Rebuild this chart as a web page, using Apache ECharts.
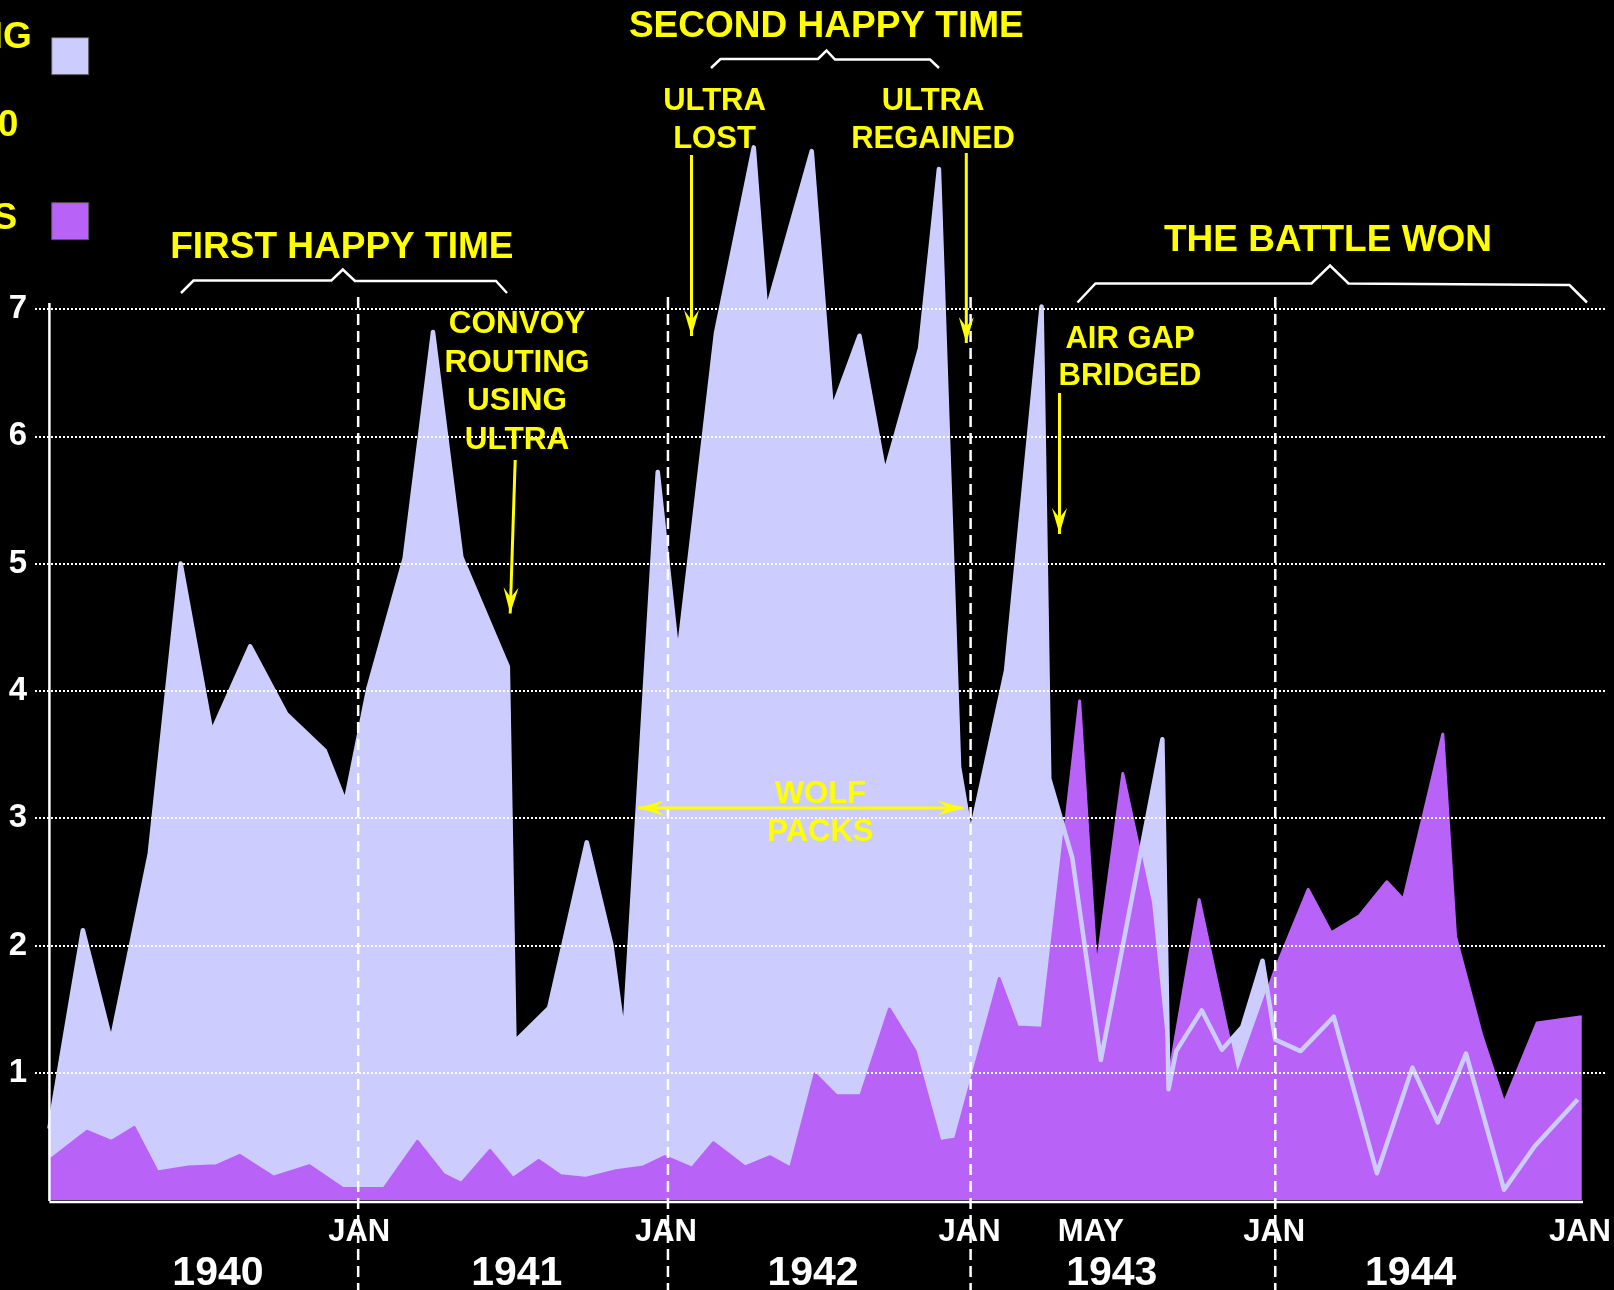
<!DOCTYPE html>
<html>
<head>
<meta charset="utf-8">
<title>Battle of the Atlantic</title>
<script src="https://cdn.jsdelivr.net/npm/echarts@6/dist/echarts.min.js"></script>
<style>
  html, body { margin: 0; padding: 0; background: #000; }
  #chart { width: 1614px; height: 1290px; }
</style>
</head>
<body>
<div id="chart"></div>
<script>
/*
 * 大西洋之战：盟军商船损失 与 U 艇击沉数
 * x 轴：自 1940 年 1 月起的月份数（按图上位置读取）
 */

// 商船损失（x 100,000 吨）
const shippingMonths = [0, 1.31, 2.42, 3.93, 5.14, 6.35, 7.86, 9.27, 10.78, 11.59,
  12.49, 13.91, 15.02, 16.13, 17.95, 18.21, 19.57, 21.04, 22.0, 22.5, 23.82,
  24.61, 26.1, 27.58, 28.07, 29.85, 30.64, 31.72, 32.71, 34.09, 34.83, 35.62,
  36.07, 37.46, 38.85, 39.15, 40.05, 41.17, 43.58, 43.82, 44.12, 45.12, 45.91, 46.71, 47.5,
  48.0, 48.99, 50.29, 51.98, 53.37, 54.36, 55.47, 56.96, 58.15, 59.84];
const shippingLosses = [0.56, 2.12, 1.24, 2.72, 5.0, 3.67, 4.35, 3.82, 3.53, 3.12,
  4.02, 5.04, 6.82, 5.05, 4.19, 1.24, 1.51, 2.81, 2.01, 1.26, 5.72,
  4.25, 6.81, 8.27, 6.97, 8.24, 6.2, 6.79, 5.7, 6.69, 8.1, 3.4,
  2.87, 4.16, 7.02, 3.31, 2.69, 1.10, 3.62, 0.87, 1.17, 1.49, 1.18, 1.36, 1.88,
  1.26, 1.17, 1.44, 0.21, 1.04, 0.61, 1.15, 0.08, 0.42, 0.79];

// U 艇击沉数（x 10）
const uboatMonths = [0, 1.48, 2.42, 3.32, 4.23, 5.44, 6.55, 7.46, 8.77, 10.18, 11.49,
  13.10, 14.41, 15.43, 16.13, 17.25, 18.15, 19.16, 20.02, 20.98, 22.19, 23.26, 24.1,
  25.16, 26.0, 27.24, 28.22, 29.02, 29.98, 30.81, 31.77, 32.89, 33.9, 34.87, 35.48,
  37.19, 37.9, 38.88, 40.34, 41.0, 42.03, 43.12, 43.82, 45.02, 46.51,
  48.0, 49.29, 50.19, 51.28, 52.37, 53.02, 54.56, 55.06, 56.09, 56.96, 58.25, 60.0];
const uboatsSunk = [0.31, 0.54, 0.46, 0.57, 0.22, 0.26, 0.27, 0.35, 0.18, 0.27, 0.09,
  0.09, 0.46, 0.2, 0.13, 0.39, 0.17, 0.31, 0.19, 0.17, 0.23, 0.26, 0.34,
  0.25, 0.45, 0.26, 0.34, 0.25, 0.99, 0.82, 0.82, 1.50, 1.17, 0.46, 0.48,
  1.74, 1.36, 1.35, 3.92, 1.81, 3.35, 2.33, 0.95, 2.36, 0.97,
  1.81, 2.44, 2.1, 2.23, 2.5, 2.36, 3.66, 2.07, 1.29, 0.76, 1.39, 1.44];

// 刻度标签
const monthTicks = [12.13, 24.14, 36.03, 40.78, 47.96, 59.93];
const monthTickLabels = ['JAN', 'JAN', 'JAN', 'MAY', 'JAN', 'JAN'];
const yearTicks = [6.6, 18.3, 29.9, 41.6, 53.3];
const yearLabels = ['1940', '1941', '1942', '1943', '1944'];
const janLines = [12.09, 24.22, 36.07, 48.0];

const FONT = '"Liberation Sans", Arial, sans-serif';
const LAVENDER = '#ccccff';
const PURPLE = '#b862f7';
const YELLOW = '#ffff00';

const X_MIN = -0.564;
const X_MAX = 60.95;

function pairs(xs, ys) {
  return xs.map((x, i) => [x, ys[i]]);
}

function labelFor(ticks, labels) {
  return (v) => {
    const i = ticks.findIndex((t) => Math.abs(t - v) < 0.01);
    return i < 0 ? '' : labels[i];
  };
}

const chart = echarts.init(document.getElementById('chart'));

const option = {
  backgroundColor: '#000',
  animation: false,
  grid: { left: 35, right: 8, top: 309, bottom: 90, outerBoundsMode: 'none' },
  xAxis: [
    {
      type: 'value', min: X_MIN, max: X_MAX,
      axisLine: { show: false, onZero: false },
      axisTick: { show: false },
      splitLine: { show: false },
      axisLabel: {
        customValues: monthTicks,
        formatter: labelFor(monthTicks, monthTickLabels),
        color: '#fff', fontSize: 31, fontWeight: 'bold', fontFamily: FONT, margin: 17,
      },
    },
    {
      type: 'value', min: X_MIN, max: X_MAX, position: 'bottom',
      axisLine: { show: false, onZero: false },
      axisTick: { show: false },
      splitLine: { show: false },
      axisLabel: {
        customValues: yearTicks,
        formatter: labelFor(yearTicks, yearLabels),
        color: '#fff', fontSize: 41, fontWeight: 'bold', fontFamily: FONT, margin: 53,
      },
    },
  ],
  yAxis: {
    type: 'value', min: 0, max: 7, interval: 1, z: 10,
    axisLine: { show: false },
    axisTick: { show: false },
    splitLine: {
      show: true, showMinLine: false,
      lineStyle: { color: '#fff', width: 2, type: [2, 2] },
    },
    axisLabel: {
      formatter: (v) => (v === 0 ? '' : String(v)),
      color: '#fff', fontSize: 33, fontWeight: 'bold', fontFamily: FONT, margin: 8,
    },
  },
  series: [
    {
      name: 'shipping', type: 'line', data: pairs(shippingMonths, shippingLosses),
      symbol: 'none', clip: false, z: 2,
      lineStyle: { color: LAVENDER, width: 3, join: 'round' },
      areaStyle: { color: LAVENDER, opacity: 1 },
    },
    {
      name: 'uboats', type: 'line', data: pairs(uboatMonths, uboatsSunk),
      symbol: 'none', clip: false, z: 3,
      lineStyle: { color: PURPLE, width: 3, join: 'round' },
      areaStyle: { color: PURPLE, opacity: 1 },
    },
    {
      // 商船损失折线，压在紫色区域上
      name: 'shipping line', type: 'line', data: pairs(shippingMonths, shippingLosses),
      symbol: 'none', clip: false, z: 4,
      lineStyle: { color: LAVENDER, width: 4.5, join: 'round' },
    },
  ],
};

chart.setOption(option);

// ---------- 注释图形 ----------
function px(m, v) {
  return chart.convertToPixel({ gridIndex: 0 }, [m, v]);
}

function text(str, x, y, size, color, lineHeight) {
  return {
    type: 'text', x, y, z: 40,
    style: {
      text: str, fill: color, fontSize: size, fontWeight: 'bold', fontFamily: FONT,
      align: 'center', verticalAlign: 'middle', lineHeight: lineHeight || size * 1.2,
    },
  };
}

function brace(points) {
  return {
    type: 'polyline', z: 40,
    shape: { points },
    style: { stroke: '#fff', lineWidth: 2.5, fill: null, lineJoin: 'miter' },
  };
}

function arrowHead(tip, from) {
  const dx = tip[0] - from[0];
  const dy = tip[1] - from[1];
  const len = Math.hypot(dx, dy);
  const ux = dx / len, uy = dy / len;
  const nx = -uy, ny = ux;
  const L = 26, W = 7.5, N = 16;
  return {
    type: 'polygon', z: 41,
    shape: {
      points: [
        tip,
        [tip[0] - ux * L + nx * W, tip[1] - uy * L + ny * W],
        [tip[0] - ux * N, tip[1] - uy * N],
        [tip[0] - ux * L - nx * W, tip[1] - uy * L - ny * W],
      ],
    },
    style: { fill: YELLOW },
  };
}

function arrow(from, to, both) {
  const els = [{
    type: 'line', z: 40,
    shape: { x1: from[0], y1: from[1], x2: to[0], y2: to[1] },
    style: { stroke: YELLOW, lineWidth: 3 },
  }, arrowHead(to, from)];
  if (both) els.push(arrowHead(from, to));
  return els;
}

function buildGraphics() {
  const els = [];
  const origin = px(0, 0);
  const top = px(0, 7);

  // 年份分隔虚线
  janLines.forEach((m) => {
    const x = px(m, 0)[0];
    els.push({
      type: 'line', z: 20,
      shape: { x1: x, y1: top[1] - 12, x2: x, y2: 1290 },
      style: { stroke: '#fff', lineWidth: 2.5, lineDash: [11, 6] },
    });
  });

  // 坐标轴线
  els.push({
    type: 'line', z: 21,
    shape: { x1: origin[0], y1: origin[1] + 1, x2: origin[0], y2: top[1] - 6 },
    style: { stroke: '#fff', lineWidth: 2.5 },
  });
  const end = px(60.05, 0);
  els.push({
    type: 'line', z: 21,
    shape: { x1: origin[0], y1: origin[1] + 2, x2: end[0], y2: end[1] + 2 },
    style: { stroke: '#fff', lineWidth: 2.5 },
  });

  // 图例（左侧被裁掉的部分）
  els.push({
    type: 'rect', z: 40,
    shape: { x: 51.7, y: 37.7, width: 37, height: 37 },
    style: { fill: LAVENDER, stroke: '#555', lineWidth: 1 },
  });
  els.push({
    type: 'rect', z: 40,
    shape: { x: 51.7, y: 202.7, width: 37, height: 37 },
    style: { fill: PURPLE, stroke: '#555', lineWidth: 1 },
  });
  [['ALLIED SHIPPING', 31.7, 38], ['TONS x 100,000', 18.3, 126], ['U-BOATS', 17.3, 219]].forEach(([s, x, y]) => {
    const t = text(s, x, y, 37, YELLOW);
    t.style.align = 'right';
    els.push(t);
  });

  // 标题与说明
  els.push(text('FIRST HAPPY TIME', 341.8, 248, 37, YELLOW));
  els.push(brace([[181, 293], [193.5, 280.5], [331.4, 280.5], [342.8, 269.5], [355, 281], [496, 281], [507, 293]]));

  els.push(text('SECOND HAPPY TIME', 826.3, 27, 37, YELLOW));
  els.push(brace([[711, 68], [720.5, 59], [818, 59], [826.5, 50.5], [835, 59.5], [930, 59.5], [939, 68]]));

  els.push(text('THE BATTLE WON', 1328, 240.5, 37, YELLOW));
  els.push(brace([[1077.5, 302.5], [1095.5, 283.5], [1311.5, 283.5], [1330, 265.5], [1348.5, 283.5], [1569.5, 285], [1587, 302.5]]));

  els.push(text('ULTRA\nLOST', 714.5, 120.5, 31, YELLOW, 38.7));
  els.push(...arrow([691.5, 155], [691.5, 336]));

  els.push(text('ULTRA\nREGAINED', 933, 120.5, 31, YELLOW, 38.7));
  els.push(...arrow([966.3, 153], [966.3, 343]));

  els.push(text('CONVOY\nROUTING\nUSING\nULTRA', 517, 382.5, 31.5, YELLOW, 38.5));
  els.push(...arrow([515.2, 460], [510.2, 613.5]));

  els.push(text('AIR GAP\nBRIDGED', 1130, 358, 31, YELLOW, 37.5));
  els.push(...arrow([1059.5, 393], [1059.5, 534]));

  els.push(text('WOLF\nPACKS', 820.4, 813.5, 31, YELLOW, 38.3));
  els.push(...arrow([638, 808], [963.6, 808], true));

  return els;
}

chart.setOption({ graphic: { elements: buildGraphics() } });
</script>
</body>
</html>
